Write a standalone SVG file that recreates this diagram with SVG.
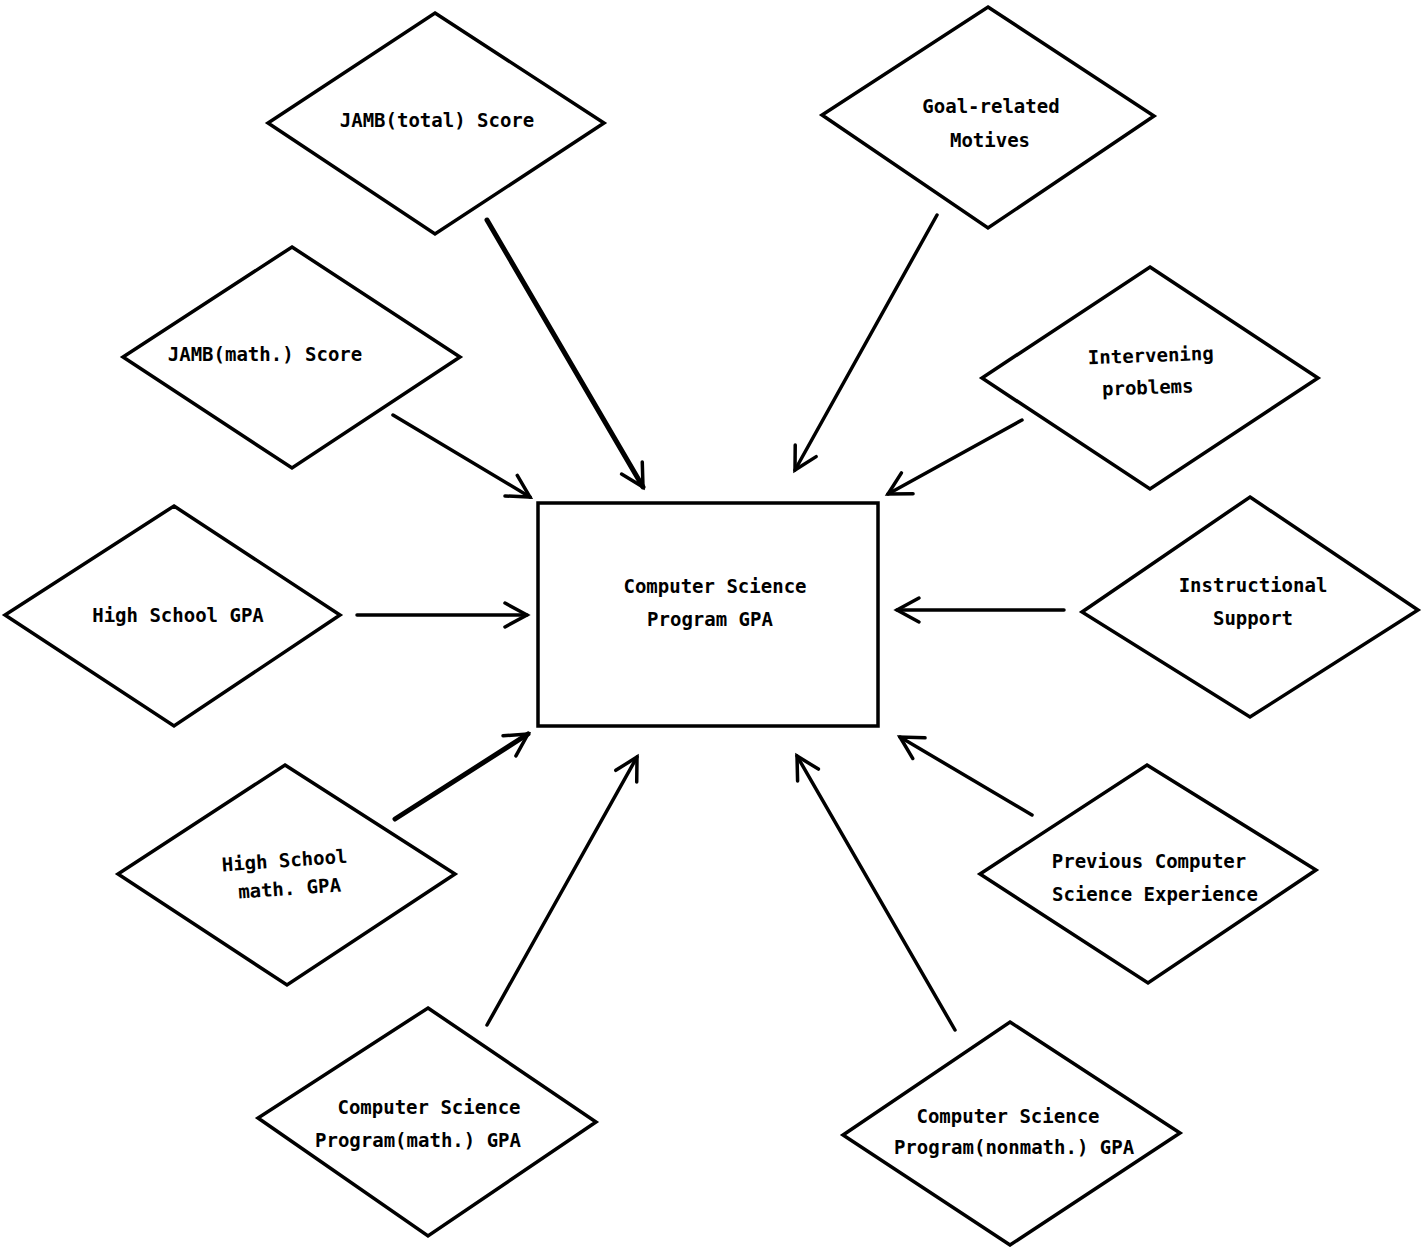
<svg xmlns="http://www.w3.org/2000/svg" width="1422" height="1247" viewBox="0 0 1422 1247">
<style>
.d{fill:#fff;stroke:#000;stroke-width:3.5;stroke-linejoin:miter}
.t{font-family:"DejaVu Sans Mono","Liberation Mono",monospace;font-weight:bold;font-size:19px;fill:#000;text-anchor:middle}
.c{fill:none;stroke:#000;stroke-width:3.5;stroke-linecap:round}
.k{stroke-width:5}
</style>
<defs>
<marker id="ah" markerUnits="userSpaceOnUse" markerWidth="30" markerHeight="30" refX="22" refY="12" orient="auto" overflow="visible">
<path d="M0,0 L22,12 L0,24" fill="none" stroke="#000" stroke-width="3.5" stroke-linecap="round" stroke-linejoin="miter"/>
</marker>
</defs>
<rect width="1422" height="1247" fill="#fff"/>
<g id="connectors">
<line class="c k" x1="487" y1="220" x2="643" y2="487" marker-end="url(#ah)"/>
<line class="c" x1="937" y1="215" x2="795" y2="470" marker-end="url(#ah)"/>
<line class="c" x1="393" y1="415" x2="530" y2="497" marker-end="url(#ah)"/>
<line class="c" x1="1022" y1="420" x2="888" y2="494" marker-end="url(#ah)"/>
<line class="c" x1="357" y1="615" x2="527" y2="615" marker-end="url(#ah)"/>
<line class="c" x1="1064" y1="610" x2="897" y2="610" marker-end="url(#ah)"/>
<line class="c k" x1="395" y1="819" x2="528" y2="734" marker-end="url(#ah)"/>
<line class="c" x1="487" y1="1025" x2="637" y2="757" marker-end="url(#ah)"/>
<line class="c" x1="955" y1="1030" x2="797" y2="756" marker-end="url(#ah)"/>
<line class="c" x1="1032" y1="815" x2="900" y2="737" marker-end="url(#ah)"/>
</g>
<g id="n-jambtotal">
<polygon class="d" points="435,13 604,123 435,234 268,123"/>
<text class="t" x="437" y="127">JAMB(total) Score</text>
</g>
<g id="n-goal">
<polygon class="d" points="988,7 1154,116 988,228 822,115"/>
<text class="t" x="991" y="113">Goal-related</text>
<text class="t" x="990" y="147">Motives</text>
</g>
<g id="n-jambmath">
<polygon class="d" points="292,247 460,357 292,468 123,357"/>
<text class="t" x="265" y="361">JAMB(math.) Score</text>
</g>
<g id="n-intervening">
<polygon class="d" points="1150,267 1318,378 1150,489 982,378"/>
<text class="t" x="1151" y="362" transform="rotate(-2 1151 362)">Intervening</text>
<text class="t" x="1148" y="394" transform="rotate(-2 1148 394)">problems</text>
</g>
<g id="n-hsgpa">
<polygon class="d" points="174,506 340,615 174,726 5,615"/>
<text class="t" x="178" y="622">High School GPA</text>
</g>
<g id="n-instructional">
<polygon class="d" points="1250,497 1418,610 1250,717 1082,612"/>
<text class="t" x="1253" y="592">Instructional</text>
<text class="t" x="1253" y="625">Support</text>
</g>
<g id="n-csgpa">
<rect x="538" y="503" width="340" height="223" fill="#fff" stroke="#000" stroke-width="3.5"/>
<text class="t" x="715" y="593">Computer Science</text>
<text class="t" x="710" y="626">Program GPA</text>
</g>
<g id="n-hsmath">
<polygon class="d" points="285,765 455,874 287,985 118,874"/>
<text class="t" x="285" y="867" transform="rotate(-4 285 867)">High School</text>
<text class="t" x="290" y="895" transform="rotate(-4 290 895)">math. GPA</text>
</g>
<g id="n-previous">
<polygon class="d" points="1147,765 1316,870 1148,983 980,874"/>
<text class="t" x="1149" y="868">Previous Computer</text>
<text class="t" x="1155" y="901">Science Experience</text>
</g>
<g id="n-csmath">
<polygon class="d" points="428,1008 596,1122 428,1236 258,1118"/>
<text class="t" x="429" y="1114">Computer Science</text>
<text class="t" x="418" y="1147">Program(math.) GPA</text>
</g>
<g id="n-csnonmath">
<polygon class="d" points="1010,1022 1180,1133 1010,1245 843,1135"/>
<text class="t" x="1008" y="1123">Computer Science</text>
<text class="t" x="1014" y="1154">Program(nonmath.) GPA</text>
</g>
</svg>
